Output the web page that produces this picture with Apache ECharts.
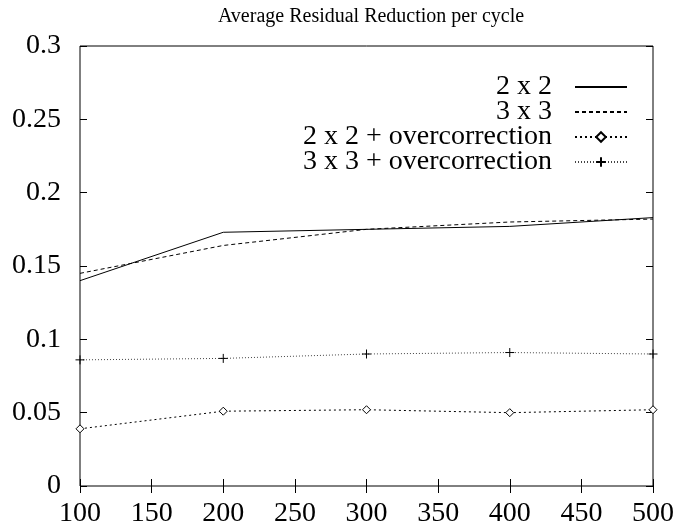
<!DOCTYPE html>
<html>
<head>
<meta charset="utf-8">
<script src="https://cdn.jsdelivr.net/npm/echarts@6/dist/echarts.min.js"></script>
<style>
  html, body { margin: 0; padding: 0; background: #fff; }
</style>
</head>
<body>
<div id="chart" style="width: 677px; height: 529px;"></div>
<script>
// grid sizes (x = number of cells)
var sizes = [100, 200, 300, 400, 500]
var names = ['2 x 2', '3 x 3', '2 x 2 + overcorrection', '3 x 3 + overcorrection']
var red2x2 = [0.140, 0.173, 0.175, 0.177, 0.183]
var red3x3 = [0.145, 0.164, 0.175, 0.180, 0.182]
var red2x2Over = [0.039, 0.051, 0.052, 0.050, 0.052]
var red3x3Over = [0.086, 0.087, 0.090, 0.091, 0.090]

function pairs(vals) {
  return sizes.map(function(s, i) { return [s, vals[i]] })
}

var font = 'Liberation Serif, Times New Roman, serif'
var plus = 'path://M0,5L10,5M5,0L5,10'
var hidden = { opacity: 0 }

const myChart = echarts.init(document.getElementById('chart'))
myChart.setOption({
  animation: false,
  title: {
    text: 'Average Residual Reduction per cycle',
    left: 366,
    textAlign: 'center',
    top: 2,
    textStyle: { fontFamily: font, fontSize: 20, fontWeight: 'normal', color: '#000' }
  },
  grid: {
    left: 80, right: 24, top: 46, bottom: 43,
    show: true, borderColor: '#000', borderWidth: 1
  },
  legend: {
    orient: 'vertical',
    right: 44,
    top: 68,
    align: 'right',
    itemWidth: 52,
    itemHeight: 12,
    itemGap: -3,
    textStyle: { fontFamily: font, fontSize: 28, color: '#000', lineHeight: 26, padding: [0, 18, 0, 0] },
    data: [
      { name: names[0], itemStyle: hidden },
      { name: names[1], itemStyle: hidden },
      names[2],
      names[3]
    ]
  },
  xAxis: [
    {
      type: 'value', min: 100, max: 500, interval: 50,
      axisLine: { show: false },
      axisTick: { inside: true, length: 7, lineStyle: { color: '#000' } },
      axisLabel: { margin: 14, fontFamily: font, fontSize: 28, color: '#000' },
      splitLine: { show: false }
    },
    {
      type: 'value', position: 'top', min: 100, max: 500, interval: 50,
      axisLine: { show: false },
      axisTick: { inside: true, length: 7, lineStyle: { color: '#000' } },
      axisLabel: { show: false },
      splitLine: { show: false }
    }
  ],
  yAxis: [
    {
      type: 'value', min: 0, max: 0.3, interval: 0.05,
      axisLine: { show: false },
      axisTick: { show: true, inside: true, length: 7, lineStyle: { color: '#000' } },
      axisLabel: { margin: 19, fontFamily: font, fontSize: 28, color: '#000' },
      splitLine: { show: false }
    },
    {
      type: 'value', position: 'right', min: 0, max: 0.3, interval: 0.05,
      axisLine: { show: false },
      axisTick: { show: true, inside: true, length: 7, lineStyle: { color: '#000' } },
      axisLabel: { show: false },
      splitLine: { show: false }
    }
  ],
  series: [
    {
      name: names[0], type: 'line', symbol: 'none',
      itemStyle: { color: '#000' },
      lineStyle: { color: '#000', width: 1 },
      data: pairs(red2x2)
    },
    {
      name: names[1], type: 'line', symbol: 'none',
      itemStyle: { color: '#000' },
      lineStyle: { color: '#000', width: 1, type: [4, 3] },
      data: pairs(red3x3)
    },
    {
      name: names[2], type: 'line', symbol: 'diamond', symbolSize: 8,
      itemStyle: { color: '#fff', borderColor: '#000', borderWidth: 1 },
      lineStyle: { color: '#000', width: 1, type: [2, 3] },
      data: pairs(red2x2Over)
    },
    {
      name: names[3], type: 'line', symbol: plus, symbolSize: 9,
      itemStyle: { color: 'none', borderColor: '#000', borderWidth: 1 },
      lineStyle: { color: '#444', width: 1, type: [1, 2] },
      data: pairs(red3x3Over)
    }
  ]
})
</script>
</body>
</html>
